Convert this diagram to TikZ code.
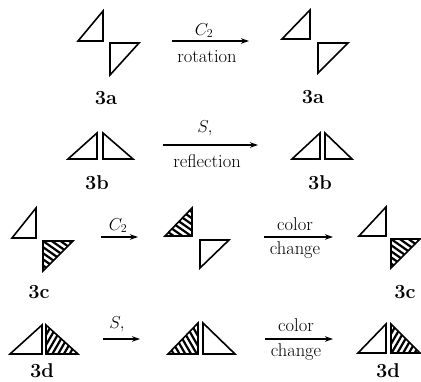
\documentclass[tikz,border=0pt]{standalone}
\usepackage{tikz}
\usetikzlibrary{arrows.meta,calc}

% hatched triangle: three corners, angle of the stripes
\newcommand{\hatchtri}[4]{%
  \begin{scope}
    \clip #1 -- #2 -- #3 -- cycle;
    \begin{scope}[shift={#1}, rotate=#4]
      \foreach \k in {-60,-55,...,60}
        \draw[stripe] (-70,\k) -- (70,\k);
    \end{scope}
  \end{scope}
  \draw[tri] #1 -- #2 -- #3 -- cycle;}

\begin{document}
\begin{tikzpicture}[x=1pt, y=-1pt, font=\fontsize{18.5}{21}\selectfont,
  tri/.style={line width=1.6pt, line join=miter},
  stripe/.style={line width=2.2pt},
  arr/.style={line width=1.3pt, -{Stealth[length=8pt,width=5.5pt]}},
  lbl/.style={font=\fontsize{20}{22}\selectfont\bfseries},
  txt/.style={anchor=base, inner sep=0pt}]
\useasboundingbox (0,0) rectangle (421,381);

% row 3a
\draw[tri] (78,41) -- (103,41) -- (103,11) -- cycle;
\draw[tri] (110,43) -- (139,43) -- (110,75) -- cycle;
\draw[tri] (282,39) -- (310,39) -- (310,10) -- cycle;
\draw[tri] (318,43) -- (348,43) -- (318,73) -- cycle;
\node[lbl] (a1) at (106,98) {3a};
\node[lbl] (a2) at (313,97) {3a};
\coordinate (r1s) at (172,41); \coordinate (r1e) at (249,41);
\draw[arr] (r1s) -- (r1e);
\node[txt] (c2a) at (204,35) {$C_2$};
\node[txt] (rot) at (207,62) {rotation};

% row 3b
\draw[tri] (68,159) -- (97,159) -- (97,133) -- cycle;
\draw[tri] (103,133) -- (103,159) -- (133,159) -- cycle;
\draw[tri] (292,159) -- (320,159) -- (320,133) -- cycle;
\draw[tri] (325,133) -- (325,159) -- (352,159) -- cycle;
\node[lbl] (b1) at (97,183) {3b};
\node[lbl] (b2) at (320,183) {3b};
\coordinate (r2s) at (163,145); \coordinate (r2e) at (258,145);
\draw[arr] (r2s) -- (r2e);
\node[txt] (s1) at (205,132) {$S,$};
\node[txt] (refl) at (207,167) {reflection};

% row 3c
\draw[tri] (12,238) -- (36,238) -- (36,208) -- cycle;
\hatchtri{(43,241)}{(73,241)}{(43,271)}{-35}
\hatchtri{(165,236)}{(192,236)}{(192,208)}{-35}
\draw[tri] (200,240) -- (229,240) -- (200,268) -- cycle;
\draw[tri] (359,236) -- (386,236) -- (386,207) -- cycle;
\hatchtri{(391,239)}{(420,239)}{(391,268)}{-35}
\node[lbl] (c1) at (39,292) {3c};
\node[lbl] (c2) at (405,292) {3c};
\coordinate (r3s) at (101,237); \coordinate (r3e) at (138,237);
\coordinate (r4s) at (264,237); \coordinate (r4e) at (333,237);
\draw[arr] (r3s) -- (r3e);
\draw[arr] (r4s) -- (r4e);
\node[txt] (c2b) at (118,230) {$C_2$};
\node[txt] (col1) at (295,230) {color};
\node[txt] (chg1) at (295,254) {change};

% row 3d
\draw[tri] (10,354) -- (42,354) -- (42,325) -- cycle;
\hatchtri{(46,325)}{(46,354)}{(78,354)}{60}
\hatchtri{(168,354)}{(198,354)}{(198,323)}{-60}
\draw[tri] (203,323) -- (203,354) -- (235,354) -- cycle;
\draw[tri] (358,353) -- (386,353) -- (386,324) -- cycle;
\hatchtri{(391,324)}{(391,353)}{(420,353)}{60}
\node[lbl] (d1) at (42,371) {3d};
\node[lbl] (d2) at (388,371) {3d};
\coordinate (r5s) at (103,339); \coordinate (r5e) at (140,339);
\coordinate (r6s) at (265,339); \coordinate (r6e) at (333,339);
\draw[arr] (r5s) -- (r5e);
\draw[arr] (r6s) -- (r6e);
\node[txt] (s2) at (117,328) {$S,$};
\node[txt] (col2) at (296,331) {color};
\node[txt] (chg2) at (296,356) {change};
\end{tikzpicture}
\end{document}
